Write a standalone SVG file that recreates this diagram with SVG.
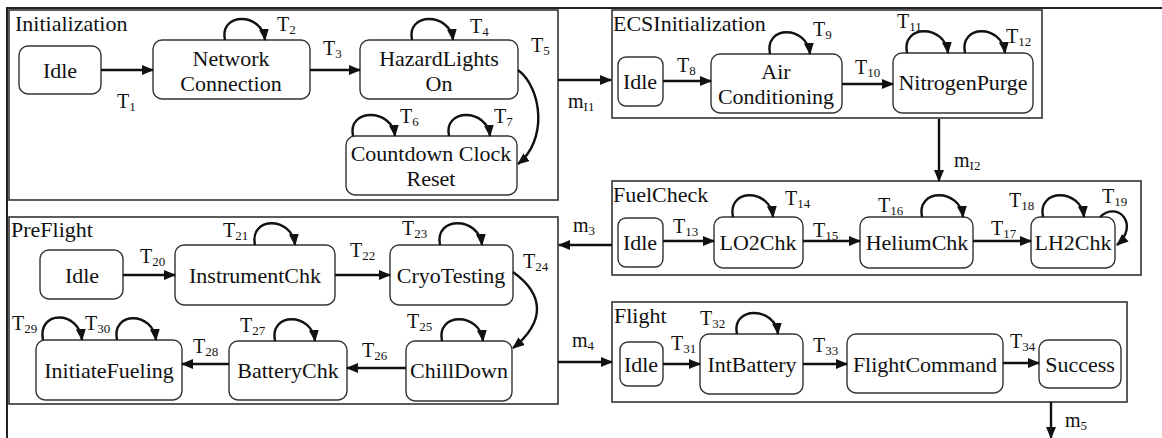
<svg xmlns="http://www.w3.org/2000/svg" width="1162" height="438" viewBox="0 0 1162 438">
  <style>
    .frame { fill: none; stroke: #222; stroke-width: 2; }
    .box { fill: none; stroke: #333; stroke-width: 1.6; }
    .node rect { fill: #fff; stroke: #333; stroke-width: 1.4; }
    .lbl { font-family: "Liberation Serif", "Times New Roman", serif; font-size: 22px; fill: #111; }
    .node text { font-family: "Liberation Serif", "Times New Roman", serif; font-size: 22px; fill: #111; text-anchor: middle; }
    .t { font-family: "Liberation Serif", "Times New Roman", serif; font-size: 20px; fill: #111; }
    .sub { font-size: 13px; }
    .edge { fill: none; stroke: #111; stroke-width: 2.4; marker-end: url(#arrow); }
  </style>
  <defs>
    <marker id="arrow" markerUnits="userSpaceOnUse" markerWidth="14" markerHeight="12" refX="11" refY="5" orient="auto">
      <path d="M0,0 L12,5 L0,10 z" fill="#111"/>
    </marker>
  </defs>

  <rect width="1162" height="438" fill="#fff"/>
  <path class="frame" d="M7,438 V8 H1162"/>

  <!-- composite states -->
  <g id="initialization">
    <rect class="box" x="9" y="10" width="549" height="190"/>
    <text class="lbl" x="15" y="31">Initialization</text>
  </g>
  <g id="ecs-initialization">
    <rect class="box" x="612" y="10" width="430" height="108"/>
    <text class="lbl" x="613" y="31">ECSInitialization</text>
  </g>
  <g id="fuelcheck">
    <rect class="box" x="612" y="181" width="529" height="94"/>
    <text class="lbl" x="613" y="202">FuelCheck</text>
  </g>
  <g id="preflight">
    <rect class="box" x="9" y="217" width="549" height="187"/>
    <text class="lbl" x="11" y="237">PreFlight</text>
  </g>
  <g id="flight">
    <rect class="box" x="612" y="302" width="515" height="100"/>
    <text class="lbl" x="614" y="323">Flight</text>
  </g>

  <!-- Initialization states -->
  <g id="init-idle" class="node">
    <rect x="19" y="46" width="82" height="48" rx="9"/>
    <text x="60" y="78">Idle</text>
  </g>
  <g id="network-connection" class="node">
    <rect x="153" y="40" width="157" height="59" rx="9"/>
    <text x="231" y="66">Network</text>
    <text x="231" y="91">Connection</text>
  </g>
  <g id="hazard-lights-on" class="node">
    <rect x="360" y="40" width="158" height="59" rx="9"/>
    <text x="439" y="66">HazardLights</text>
    <text x="439" y="91">On</text>
  </g>
  <g id="countdown-clock-reset" class="node">
    <rect x="346" y="136" width="171" height="59" rx="9"/>
    <text x="431" y="161">Countdown Clock</text>
    <text x="431" y="186">Reset</text>
  </g>

  <!-- ECSInitialization states -->
  <g id="ecs-idle" class="node">
    <rect x="618" y="57" width="45" height="49" rx="8"/>
    <text x="640" y="89">Idle</text>
  </g>
  <g id="air-conditioning" class="node">
    <rect x="711" y="54" width="131" height="59" rx="9"/>
    <text x="776" y="79">Air</text>
    <text x="776" y="104">Conditioning</text>
  </g>
  <g id="nitrogen-purge" class="node">
    <rect x="893" y="53" width="140" height="60" rx="9"/>
    <text x="963" y="90">NitrogenPurge</text>
  </g>

  <!-- FuelCheck states -->
  <g id="fuel-idle" class="node">
    <rect x="618" y="218" width="45" height="49" rx="8"/>
    <text x="640" y="250">Idle</text>
  </g>
  <g id="lo2chk" class="node">
    <rect x="714" y="217" width="89" height="51" rx="9"/>
    <text x="758" y="250">LO2Chk</text>
  </g>
  <g id="heliumchk" class="node">
    <rect x="860" y="217" width="113" height="51" rx="9"/>
    <text x="917" y="250">HeliumChk</text>
  </g>
  <g id="lh2chk" class="node">
    <rect x="1031" y="217" width="84" height="51" rx="9"/>
    <text x="1073" y="250">LH2Chk</text>
  </g>

  <!-- PreFlight states -->
  <g id="preflight-idle" class="node">
    <rect x="40" y="250" width="83" height="49" rx="9"/>
    <text x="82" y="283">Idle</text>
  </g>
  <g id="instrumentchk" class="node">
    <rect x="175" y="245" width="160" height="60" rx="9"/>
    <text x="255" y="283">InstrumentChk</text>
  </g>
  <g id="cryotesting" class="node">
    <rect x="390" y="245" width="123" height="60" rx="9"/>
    <text x="451" y="283">CryoTesting</text>
  </g>
  <g id="chilldown" class="node">
    <rect x="406" y="341" width="106" height="60" rx="9"/>
    <text x="459" y="378">ChillDown</text>
  </g>
  <g id="batterychk" class="node">
    <rect x="229" y="341" width="118" height="59" rx="9"/>
    <text x="288" y="378">BatteryChk</text>
  </g>
  <g id="initiatefueling" class="node">
    <rect x="36" y="340" width="146" height="60" rx="9"/>
    <text x="109" y="378">InitiateFueling</text>
  </g>

  <!-- Flight states -->
  <g id="flight-idle" class="node">
    <rect x="620" y="342" width="43" height="44" rx="8"/>
    <text x="641" y="372">Idle</text>
  </g>
  <g id="intbattery" class="node">
    <rect x="700" y="334" width="103" height="60" rx="9"/>
    <text x="752" y="372">IntBattery</text>
  </g>
  <g id="flightcommand" class="node">
    <rect x="847" y="334" width="156" height="59" rx="9"/>
    <text x="925" y="372">FlightCommand</text>
  </g>
  <g id="success" class="node">
    <rect x="1039" y="340" width="82" height="48" rx="9"/>
    <text x="1080" y="372">Success</text>
  </g>

  <!-- transitions -->
  <g id="connectors">
    <path class="edge" d="M101,70 H153"/>
    <path class="edge" d="M225,40 C219,12 262,12 265,40"/>
    <path class="edge" d="M310,70 H360"/>
    <path class="edge" d="M412,40 C406,12 450,12 453,40"/>
    <path class="edge" d="M518,70 C542,88 548,140 518,164"/>
    <path class="edge" d="M353,136 C347,108 392,108 395,136"/>
    <path class="edge" d="M449,136 C443,108 487,108 490,136"/>
    <path class="edge" d="M558,80 H611"/>

    <path class="edge" d="M663,81 H711"/>
    <path class="edge" d="M770,54 C764,25 807,25 810,54"/>
    <path class="edge" d="M842,84 H893"/>
    <path class="edge" d="M907,53 C901,24 945,24 948,53"/>
    <path class="edge" d="M965,53 C959,24 1002,24 1005,53"/>
    <path class="edge" d="M939,119 V181"/>

    <path class="edge" d="M663,241 H714"/>
    <path class="edge" d="M733,217 C727,188 770,188 773,217"/>
    <path class="edge" d="M803,241 H860"/>
    <path class="edge" d="M922,217 C916,188 960,188 963,217"/>
    <path class="edge" d="M973,241 H1031"/>
    <path class="edge" d="M1043,217 C1037,188 1081,188 1084,217"/>
    <path class="edge" d="M1100,217 C1118,200 1140,225 1117,245"/>
    <path class="edge" d="M612,245 H559"/>

    <path class="edge" d="M123,275 H175"/>
    <path class="edge" d="M255,245 C249,216 292,216 295,245"/>
    <path class="edge" d="M335,275 H390"/>
    <path class="edge" d="M440,245 C434,216 479,216 482,245"/>
    <path class="edge" d="M513,272 C545,295 545,322 513,348"/>
    <path class="edge" d="M442,341 C436,312 480,312 483,341"/>
    <path class="edge" d="M406,368 H347"/>
    <path class="edge" d="M275,341 C269,312 312,312 315,341"/>
    <path class="edge" d="M229,364 H182"/>
    <path class="edge" d="M43,340 C37,310 79,310 82,340"/>
    <path class="edge" d="M117,340 C111,311 153,311 156,340"/>
    <path class="edge" d="M558,362 H612"/>

    <path class="edge" d="M663,364 H700"/>
    <path class="edge" d="M737,334 C731,306 775,306 778,334"/>
    <path class="edge" d="M803,364 H847"/>
    <path class="edge" d="M1003,363 H1039"/>
    <path class="edge" d="M1051,402 V438"/>
  </g>

  <!-- transition labels -->
  <g id="labels" class="t">
    <text x="117" y="108">T<tspan class="sub" dy="3">1</tspan></text>
    <text x="277" y="31">T<tspan class="sub" dy="3">2</tspan></text>
    <text x="323" y="55">T<tspan class="sub" dy="3">3</tspan></text>
    <text x="470" y="33">T<tspan class="sub" dy="3">4</tspan></text>
    <text x="531" y="52">T<tspan class="sub" dy="3">5</tspan></text>
    <text x="400" y="123">T<tspan class="sub" dy="3">6</tspan></text>
    <text x="494" y="123">T<tspan class="sub" dy="3">7</tspan></text>
    <text x="568" y="108">m<tspan class="sub" dy="3">I1</tspan></text>
    <text x="677" y="72">T<tspan class="sub" dy="3">8</tspan></text>
    <text x="813" y="36">T<tspan class="sub" dy="3">9</tspan></text>
    <text x="855" y="74">T<tspan class="sub" dy="3">10</tspan></text>
    <text x="897" y="28">T<tspan class="sub" dy="3">11</tspan></text>
    <text x="1006" y="43">T<tspan class="sub" dy="3">12</tspan></text>
    <text x="954" y="167">m<tspan class="sub" dy="3">I2</tspan></text>
    <text x="673" y="233">T<tspan class="sub" dy="3">13</tspan></text>
    <text x="785" y="205">T<tspan class="sub" dy="3">14</tspan></text>
    <text x="813" y="237">T<tspan class="sub" dy="3">15</tspan></text>
    <text x="878" y="212">T<tspan class="sub" dy="3">16</tspan></text>
    <text x="991" y="235">T<tspan class="sub" dy="3">17</tspan></text>
    <text x="1009" y="207">T<tspan class="sub" dy="3">18</tspan></text>
    <text x="1102" y="203">T<tspan class="sub" dy="3">19</tspan></text>
    <text x="573" y="232">m<tspan class="sub" dy="3">3</tspan></text>
    <text x="140" y="263">T<tspan class="sub" dy="3">20</tspan></text>
    <text x="223" y="237">T<tspan class="sub" dy="3">21</tspan></text>
    <text x="350" y="257">T<tspan class="sub" dy="3">22</tspan></text>
    <text x="402" y="235">T<tspan class="sub" dy="3">23</tspan></text>
    <text x="523" y="268">T<tspan class="sub" dy="3">24</tspan></text>
    <text x="407" y="328">T<tspan class="sub" dy="3">25</tspan></text>
    <text x="362" y="357">T<tspan class="sub" dy="3">26</tspan></text>
    <text x="240" y="332">T<tspan class="sub" dy="3">27</tspan></text>
    <text x="193" y="353">T<tspan class="sub" dy="3">28</tspan></text>
    <text x="12" y="330">T<tspan class="sub" dy="3">29</tspan></text>
    <text x="85" y="330">T<tspan class="sub" dy="3">30</tspan></text>
    <text x="572" y="347">m<tspan class="sub" dy="3">4</tspan></text>
    <text x="671" y="350">T<tspan class="sub" dy="3">31</tspan></text>
    <text x="700" y="325">T<tspan class="sub" dy="3">32</tspan></text>
    <text x="813" y="352">T<tspan class="sub" dy="3">33</tspan></text>
    <text x="1010" y="348">T<tspan class="sub" dy="3">34</tspan></text>
    <text x="1065" y="427">m<tspan class="sub" dy="3">5</tspan></text>
  </g>
</svg>
